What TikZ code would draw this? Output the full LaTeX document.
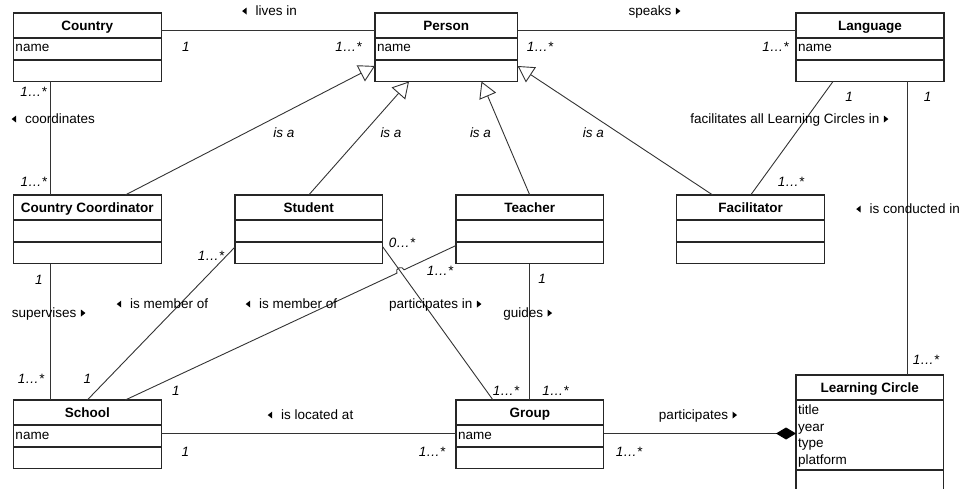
\documentclass[tikz,border=0pt]{standalone}
\usepackage{fontspec}
\setmainfont{Liberation Sans}
\usetikzlibrary{arrows.meta,calc}

\newcommand\basefont{\fontsize{13.5}{16.5}\selectfont}
% small filled direction triangles for association names
\newcommand\rarr{\tikz[baseline=0pt]\fill (0pt,1.3pt)--(4.5pt,4.8pt)--(0pt,8.3pt)--cycle;}
\newcommand\larr{\tikz[baseline=0pt]\fill (4.5pt,1.3pt)--(0pt,4.8pt)--(4.5pt,8.3pt)--cycle;}

\tikzset{
  classframe/.style={draw=black!85, line width=1.5pt, fill=white, inner sep=0pt, outer sep=0pt},
  classrule/.style={draw=black!85, line width=1.5pt},
  classtitle/.style={font=\basefont\bfseries, text height=9.7pt, text depth=0pt, inner sep=0pt},
  attr/.style={font=\basefont, anchor=base west, inner sep=0pt},
  assoc/.style={draw=black!80, line width=0.9pt},
  isa/.style={assoc, -{Triangle[open, length=16pt, width=18pt, fill=white]}},
  compose/.style={assoc, -{Diamond[length=20pt, width=12pt, color=black, fill=black]}},
  lbl/.style={font=\basefont, text height=9.7pt, text depth=0pt, inner sep=0pt},
  mult/.style={lbl, font=\basefont\itshape},
}

% #1 name, #2 left, #3 top, #4 width, #5 height, #6 title, #7 attribute compartment height
\newcommand\umlclass[7]{%
  \node[classframe, anchor=north west, minimum width=#4pt, minimum height=#5pt] (#1) at (#2,#3) {};
  \node[classtitle] (#1-title) at (#2+#4/2, #3+12.5) {#6};
  \draw[classrule] (#2,#3+25) -- (#2+#4,#3+25);
  \draw[classrule] (#2,#3+25+#7) -- (#2+#4,#3+25+#7);
}

\begin{document}
\begin{tikzpicture}[x=1pt, y=-1pt]
\useasboundingbox (0,0) rectangle (961,489);

% classes
\umlclass{country}{13.3}{13}{148}{68.5}{Country}{22}
\umlclass{person}{375}{13}{142.6}{68.5}{Person}{22}
\umlclass{lang}{796}{13}{148}{68.5}{Language}{22}
\umlclass{cc}{13.3}{195}{148}{68.5}{Country Coordinator}{22}
\umlclass{stu}{235}{195}{147.5}{68.5}{Student}{22}
\umlclass{tea}{456}{195}{147.5}{68.5}{Teacher}{22}
\umlclass{fac}{676.7}{195}{148}{68.5}{Facilitator}{22}
\umlclass{school}{13.3}{400}{148}{68.5}{School}{22}
\umlclass{grp}{456}{400}{147.5}{68.5}{Group}{22}
\umlclass{lc}{796}{375}{147.5}{130}{Learning Circle}{70}

% attributes
\node[attr] (country-a) at (15.3,52) {name};
\node[attr] (person-a) at (377,52) {name};
\node[attr] (lang-a) at (798,52) {name};
\node[attr] (school-a) at (15.3,439) {name};
\node[attr] (grp-a) at (458,439) {name};
\node[attr] (lc-a1) at (798,414.5) {title};
\node[attr] (lc-a2) at (798,431) {year};
\node[attr] (lc-a3) at (798,447.5) {type};
\node[attr] (lc-a4) at (798,464) {platform};

% associations
\draw[assoc] ([yshift=-17pt]country.north east) -- ([yshift=-17pt]person.north west);
\draw[assoc] ([yshift=-17pt]person.north east) -- ([yshift=-17pt]lang.north west);
\draw[assoc] ([xshift=37pt]country.south west) -- ([xshift=37pt]cc.north west);
\draw[assoc] ([xshift=37pt]cc.south west) -- ([xshift=37pt]school.north west);
\draw[assoc] ([xshift=37pt]lang.south west) -- (fac.north);
\draw[assoc] ([xshift=111pt]lang.south west) -- ([xshift=111pt]lc.north west);
\draw[assoc] ([yshift=16.5pt]stu.south west) -- (school.north);
\draw[assoc] (tea.south) -- (grp.north);
\draw[assoc] ([yshift=-33.5pt]school.north east) -- ([yshift=-33.5pt]grp.north west);
\draw[compose] ([yshift=-33.5pt]grp.north east) -- ([yshift=-58.5pt]lc.north west);

% student participates in group; teacher line hops over it
\coordinate (ta) at ([yshift=18pt]tea.south west);
\coordinate (sa) at ([xshift=112pt]school.north west);
\coordinate (sb) at ([yshift=17pt]stu.south east);
\coordinate (gb) at ([xshift=37pt]grp.north west);
\draw[assoc] (sb) -- (gb);
\coordinate (hop) at (intersection of ta--sa and sb--gb);
\draw[assoc] let \p1=($(ta)-(hop)$), \n1={atan2(\y1,\x1)} in
  (ta) -- ($(hop)!4pt!(ta)$) arc[start angle=\n1, end angle=\n1+180, radius=4pt] -- (sa);

% generalizations
\draw[isa] ([xshift=112pt]cc.north west) -- ([yshift=-53pt]person.north west);
\draw[isa] (stu.north) -- ([xshift=34pt]person.south west);
\draw[isa] (tea.north) -- ([xshift=106.5pt]person.south west);
\draw[isa] ([xshift=36pt]fac.north west) -- ([yshift=-53pt]person.north east);

% association names
\node[lbl] (n-lives) at (269.5,11) {\larr\hspace{9pt}lives in};
\node[lbl] (n-speaks) at (654.5,11) {speaks\hspace{4.5pt}\rarr};
\node[lbl] (n-coord) at (53.3,119) {\larr\hspace{9pt}coordinates};
\node[lbl] (n-facil) at (789.3,119) {facilitates all Learning Circles in\hspace{4.5pt}\rarr};
\node[lbl] (n-cond) at (908,209) {\larr\hspace{9pt}is conducted in};
\node[lbl] (n-superv) at (48.7,313) {supervises\hspace{4.5pt}\rarr};
\node[lbl] (n-mem1) at (162.5,304) {\larr\hspace{9pt}is member of};
\node[lbl] (n-mem2) at (291.5,304) {\larr\hspace{9pt}is member of};
\node[lbl] (n-part) at (435.3,304) {participates in\hspace{4.5pt}\rarr};
\node[lbl] (n-guides) at (527.7,313) {guides\hspace{4.5pt}\rarr};
\node[lbl] (n-loc) at (310.5,415) {\larr\hspace{9pt}is located at};
\node[lbl] (n-partc) at (698,415) {participates\hspace{4.5pt}\rarr};

% generalization names
\node[mult] (isa1) at (284,133) {is a};
\node[mult] (isa2) at (391,133) {is a};
\node[mult] (isa3) at (480.5,133) {is a};
\node[mult] (isa4) at (593.3,133) {is a};

% multiplicities
\node[mult] (m1) at (186,47) {1};
\node[mult] (m2) at (348.5,47) {1…*};
\node[mult] (m3) at (540,47) {1…*};
\node[mult] (m4) at (775.5,47) {1…*};
\node[mult] (m5) at (33.5,92) {1…*};
\node[mult] (m6) at (33.7,182) {1…*};
\node[mult] (m7) at (849,96.5) {1};
\node[mult] (m8) at (927.5,96.5) {1};
\node[mult] (m9) at (791,182) {1…*};
\node[mult] (m10) at (926,360) {1…*};
\node[mult] (m11) at (39,280) {1};
\node[mult] (m12) at (211,256) {1…*};
\node[mult] (m13) at (402,243) {0…*};
\node[mult] (m14) at (440,271) {1…*};
\node[mult] (m15) at (542,279) {1};
\node[mult] (m16) at (31,379) {1…*};
\node[mult] (m17) at (87.5,379) {1};
\node[mult] (m18) at (176,391) {1};
\node[mult] (m19) at (185.5,452) {1};
\node[mult] (m20) at (506,391) {1…*};
\node[mult] (m21) at (555.5,391) {1…*};
\node[mult] (m22) at (432,452) {1…*};
\node[mult] (m23) at (629,452) {1…*};
\end{tikzpicture}
\end{document}
